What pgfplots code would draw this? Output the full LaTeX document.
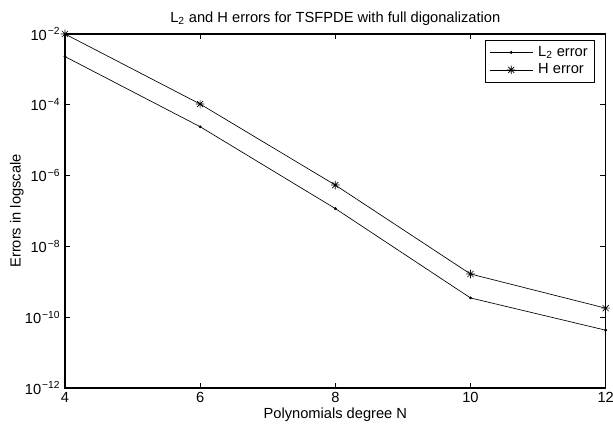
\documentclass[border=0pt]{standalone}
\usepackage{fontspec}
\setmainfont{Liberation Sans}
\usepackage{pgfplots}
\pgfplotsset{compat=1.18}
\pgfdeclareplotmark{mstar}{%
  \pgfpathmoveto{\pgfqpoint{-\pgfplotmarksize}{0pt}}\pgfpathlineto{\pgfqpoint{\pgfplotmarksize}{0pt}}%
  \pgfpathmoveto{\pgfqpoint{0pt}{-\pgfplotmarksize}}\pgfpathlineto{\pgfqpoint{0pt}{\pgfplotmarksize}}%
  \pgfpathmoveto{\pgfqpoint{-0.707\pgfplotmarksize}{-0.707\pgfplotmarksize}}\pgfpathlineto{\pgfqpoint{0.707\pgfplotmarksize}{0.707\pgfplotmarksize}}%
  \pgfpathmoveto{\pgfqpoint{-0.707\pgfplotmarksize}{0.707\pgfplotmarksize}}\pgfpathlineto{\pgfqpoint{0.707\pgfplotmarksize}{-0.707\pgfplotmarksize}}%
  \pgfusepathqstroke}
\begin{document}
\begin{tikzpicture}
\begin{axis}[
  name=ax,
  scale only axis,
  width=405.5pt, height=265.5pt,
  ymode=log,
  xmin=4, xmax=12, ymin=1e-12, ymax=1e-2,
  xtick={4,6,8,10,12},
  ytick={1e-12,1e-10,1e-8,1e-6,1e-4,1e-2},
  minor ytick={},
  log ticks with fixed point=false,
  yticklabel={\pgfmathparse{int(round(-\tick/2.302585093))}10\textsuperscript{\kern0.1em −\pgfmathresult}},
  /pgf/number format/assume math mode=true,
  tick align=inside,
  major tick length=4pt,
  minor tick length=0pt,
  axis line style={line width=0.8pt},
  every tick/.style={line width=0.5pt, black},
  font=\fontsize{11}{13}\selectfont,
  tick label style={font=\fontsize{11}{13}\selectfont},
  title={L\textsubscript{2} and H errors for TSFPDE with full digonalization},
  title style={yshift=-3pt},
  xlabel={Polynomials degree N},
  ylabel={Errors in logscale},
  xlabel style={yshift=3pt},
  ylabel style={yshift=-6pt},
  legend style={at={(0.98,0.983)}, anchor=north east, draw=black, line width=0.6pt,
    font=\fontsize{11}{13}\selectfont, inner xsep=3pt, inner ysep=2.5pt, row sep=0pt,
    cells={anchor=west}},
  legend cell align=left,
  legend image code/.code={%
    \draw[#1, mark=none] (0pt,0pt) -- (32pt,0pt);
    \draw[#1, only marks] plot coordinates {(16pt,0pt)};
    \path (34pt,0pt);},
  legend image post style={line width=0.5pt},
]
\addplot[black, line width=0.5pt, mark=*, mark size=0.8pt] coordinates {
 (4,2.3e-3) (6,2.4e-5) (8,1.17e-7) (10,3.5e-10) (12,4.3e-11)};
\addlegendentry{L\textsubscript{2} error}
\addplot[black, line width=0.5pt, mark=mstar, mark size=3.2pt] coordinates {
 (4,1.0e-2) (6,1.05e-4) (8,5.4e-7) (10,1.66e-9) (12,1.8e-10)};
\addlegendentry{H error}
\end{axis}
\pgfresetboundingbox
\path ([xshift=-48.75pt,yshift=-32.25pt]ax.south west) rectangle ([xshift=5.5pt,yshift=25.5pt]ax.north east);
\end{tikzpicture}
\end{document}
